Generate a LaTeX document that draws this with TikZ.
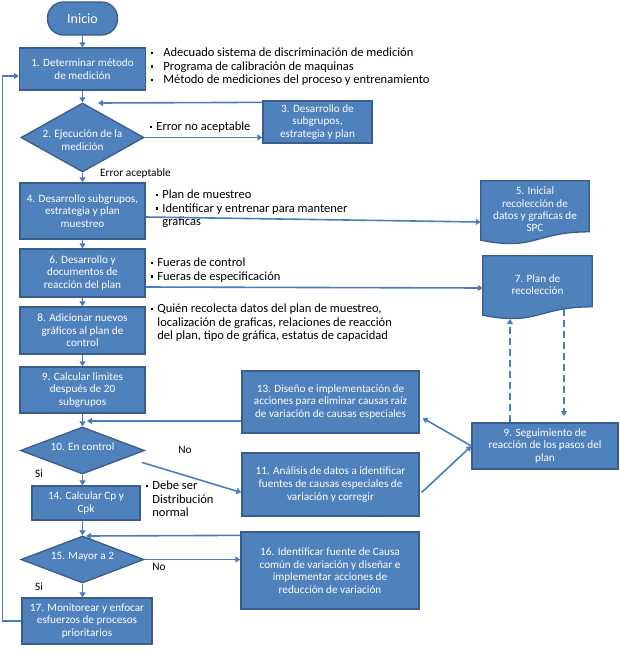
\documentclass[tikz,border=0pt]{standalone}
\usepackage{fontspec}
\setmainfont{Carlito}
\usetikzlibrary{arrows.meta,shapes.geometric,calc,backgrounds}
\definecolor{boxfill}{HTML}{4F81BD}
\definecolor{boxline}{HTML}{385D8A}
\definecolor{conn}{HTML}{4A7EBB}
\newcommand{\bul}{\raisebox{2.4pt}{\rule{2.2pt}{2.2pt}}}
\begin{document}
\begin{tikzpicture}[x=1pt,y=-1pt,
  box/.style={draw=boxline, fill=boxfill, line width=1.3pt, text=white, align=center, font=\fontsize{11.2}{12.6}\selectfont, inner sep=1pt},
  dia/.style={diamond, draw=boxline, fill=boxfill, line width=1.3pt, inner sep=0pt},
  dtext/.style={text=white, align=center, font=\fontsize{11.2}{12.5}\selectfont, inner sep=0pt},
  docbox/.style={text=white, align=center, font=\fontsize{11.2}{12.4}\selectfont, minimum height=57pt, inner sep=1pt},
  docshape/.style={draw=boxline, fill=boxfill, line width=1.3pt},
  arr/.style={draw=conn, line width=1.6pt, -{Triangle[length=5pt,width=6pt]}},
  dsh/.style={arr, dash pattern=on 7pt off 4pt},
  side/.style={align=left, anchor=north west, font=\fontsize{12.5}{13.2}\selectfont, inner sep=0pt, text=black},
  lab/.style={font=\fontsize{11.3}{13}\selectfont, inner sep=0pt, text=black}
]
\useasboundingbox (0,0) rectangle (620,662);

% nodes
\node[box, rounded corners=16pt, minimum width=70pt, minimum height=33pt, font=\fontsize{14}{16}\selectfont] (ini) at (82.5,18.5) {Inicio};
\node[box, minimum width=126pt, minimum height=42pt] (b1) at (82.5,69) {1. Determinar método\\de medición};
\node[dia, minimum width=123pt, minimum height=69pt] (d2) at (82.5,137.5) {};
\node[dtext] (d2t) at (82.5,140) {2. Ejecución de la\\medición};
\node[box, minimum width=109pt, minimum height=42pt] (b3) at (317.5,122) {3. Desarrollo de\\subgrupos,\\estrategia y plan};
\node[box, minimum width=125pt, minimum height=56pt] (b4) at (82.5,211) {4. Desarrollo subgrupos,\\estrategia y plan\\muestreo};
\node[docbox, minimum width=108pt] (b5) at (535,209.5) {5. Inicial\\recolección de\\datos y graficas de\\SPC};
\node[box, minimum width=125pt, minimum height=48pt] (b6) at (82.5,273) {6. Desarrollo y\\documentos de\\reacción del plan};
\node[docbox, minimum width=109pt] (b7) at (537.5,284.5) {7. Plan de\\recolección};
\node[box, minimum width=125pt, minimum height=47pt] (b8) at (82.5,330.5) {8. Adicionar nuevos\\gráficos al plan de\\control};
\node[box, minimum width=125pt, minimum height=46pt] (b9) at (82.5,390) {9. Calcular limites\\después de 20\\subgrupos};
\node[dia, minimum width=124pt, minimum height=47pt] (d10) at (82.5,450.5) {};
\node[dtext] (d10t) at (82.5,447) {10. En control};
\node[box, minimum width=108pt, minimum height=34pt] (b14) at (86,503) {14. Calcular Cp y\\Cpk};
\node[dia, minimum width=123pt, minimum height=47pt] (d15) at (82.5,559.5) {};
\node[dtext] (d15t) at (82.5,557) {15. Mayor a 2};
\node[box, minimum width=130pt, minimum height=46pt] (b17) at (87,621) {17. Monitorear y enfocar\\esfuerzos de procesos\\prioritarios};
\node[box, minimum width=177pt, minimum height=62pt] (b13) at (330.5,402) {13. Diseño e implementación de\\acciones para eliminar causas raíz\\de variación de causas especiales};
\node[box, minimum width=177pt, minimum height=63pt] (b11) at (330.5,484.5) {11. Análisis de datos a identificar\\fuentes de causas especiales de\\variación y corregir};
\node[box, minimum width=178pt, minimum height=77pt] (b16) at (330,570.5) {16. Identificar fuente de Causa\\común de variación y diseñar e\\implementar acciones de\\reducción de variación};
\node[box, minimum width=146pt, minimum height=46pt] (s9) at (545,446) {9. Seguimiento de\\reacción de los pasos del\\plan};

% document shapes
\begin{pgfonlayer}{background}
\path[docshape] (b5.north west) -- (b5.north east) -- ($(b5.north east)+(0,51)$)
  .. controls ($(b5.north)+(0,51)$) and ($(b5.north)+(0,70.4)$) .. ($(b5.north west)+(0,59.4)$) -- cycle;
\path[docshape] (b7.north west) -- (b7.north east) -- ($(b7.north east)+(0,51)$)
  .. controls ($(b7.north)+(0,51)$) and ($(b7.north)+(0,70.4)$) .. ($(b7.north west)+(0,59.4)$) -- cycle;
\end{pgfonlayer}

% side texts
\node[side] (t1) at (150,48) {\hspace*{1pt}\bul\hspace*{10pt}Adecuado sistema de discriminación de medición\\
\hspace*{1pt}\bul\hspace*{10pt}Programa de calibración de maquinas\\
\hspace*{1pt}\bul\hspace*{10pt}Método de mediciones del proceso y entrenamiento};
\node[side] (t2) at (150,122) {\bul\hspace*{4pt}Error no aceptable};
\node[lab, anchor=west] (t3) at (100,173) {Error aceptable};
\node[side] (t4) at (156,190) {\bul\hspace*{4pt}Plan de muestreo\\
\bul\hspace*{4pt}Identificar y entrenar para mantener\\
\hspace*{6.2pt}graficas};
\node[side] (t6) at (151,258) {\bul\hspace*{4pt}Fueras de control\\
\bul\hspace*{4pt}Fueras de especificación};
\node[side] (t8) at (151,304) {\bul\hspace*{4pt}Quién recolecta datos del plan de muestreo,\\
\hspace*{6.2pt}localización de graficas, relaciones de reacción\\
\hspace*{6.2pt}del plan, tipo de gráfica, estatus de capacidad};
\node[side] (t14) at (146,481) {\bul\hspace*{4pt}Debe ser\\
\hspace*{6.2pt}Distribución\\
\hspace*{6.2pt}normal};
\node[lab] (no1) at (185,450) {No};
\node[lab] (si1) at (39,474) {Si};
\node[lab] (no2) at (159,567) {No};
\node[lab] (si2) at (39,587) {Si};

% connectors
\coordinate (d2in) at (98,103);
\coordinate (d10in) at (87,421);
\coordinate (d15in) at (86,536);
\coordinate (b7bl) at (510,319);
\coordinate (b7br) at (564,309);
\coordinate (s9top) at (564,416);

\draw[arr] (ini) -- (b1);
\draw[arr] (b1) -- (d2);
\draw[arr] ($(b3.north west)+(0,2)$) -- (d2in);
\draw[arr] (d2.east) -- (d2.east -| b3.west);
\draw[arr] (d2) -- (b4);
\draw[arr] (b4) -- (b6);
\draw[arr] (b6) -- (b8);
\draw[arr] (b8) -- (b9);
\draw[arr] (b9) -- (d10);
\draw[arr] ($(b4.east)+(0,6)$) -- ($(b5.west)+(0,12.5)$);
\draw[arr] ($(b6.east)+(0,14)$) -- ($(b7.west)+(0,3.5)$);
\draw[arr] ($(b13.west)+(0,19)$) -- (d10in);
\draw[arr] ($(d10.east)+(-3,12)$) -- ($(b11.west)+(0,8)$);
\draw[arr] (d10.south) -- (d10.south |- b14.north);
\draw[arr] (b14.south -| d15.north) -- (d15.north);
\draw[arr] ($(b16.north west)+(0,4)$) -- (d15in);
\draw[arr] (d15.east) -- (d15.east -| b16.west);
\draw[arr] (d15.south) -- (d15.south |- b17.north);
\draw[arr] (b17.west) -- ++(-19,0) |- ($(b1.west)+(0,7)$);
\draw[arr] (s9.west) -- ($(b13.east)+(3,16)$);
\draw[arr] ($(b11.east)+(2,8)$) -- (s9.west);
\draw[dsh] (s9.north -| b7bl) -- (b7bl);
\draw[dsh] (b7br) -- (s9top);
\end{tikzpicture}
\end{document}
